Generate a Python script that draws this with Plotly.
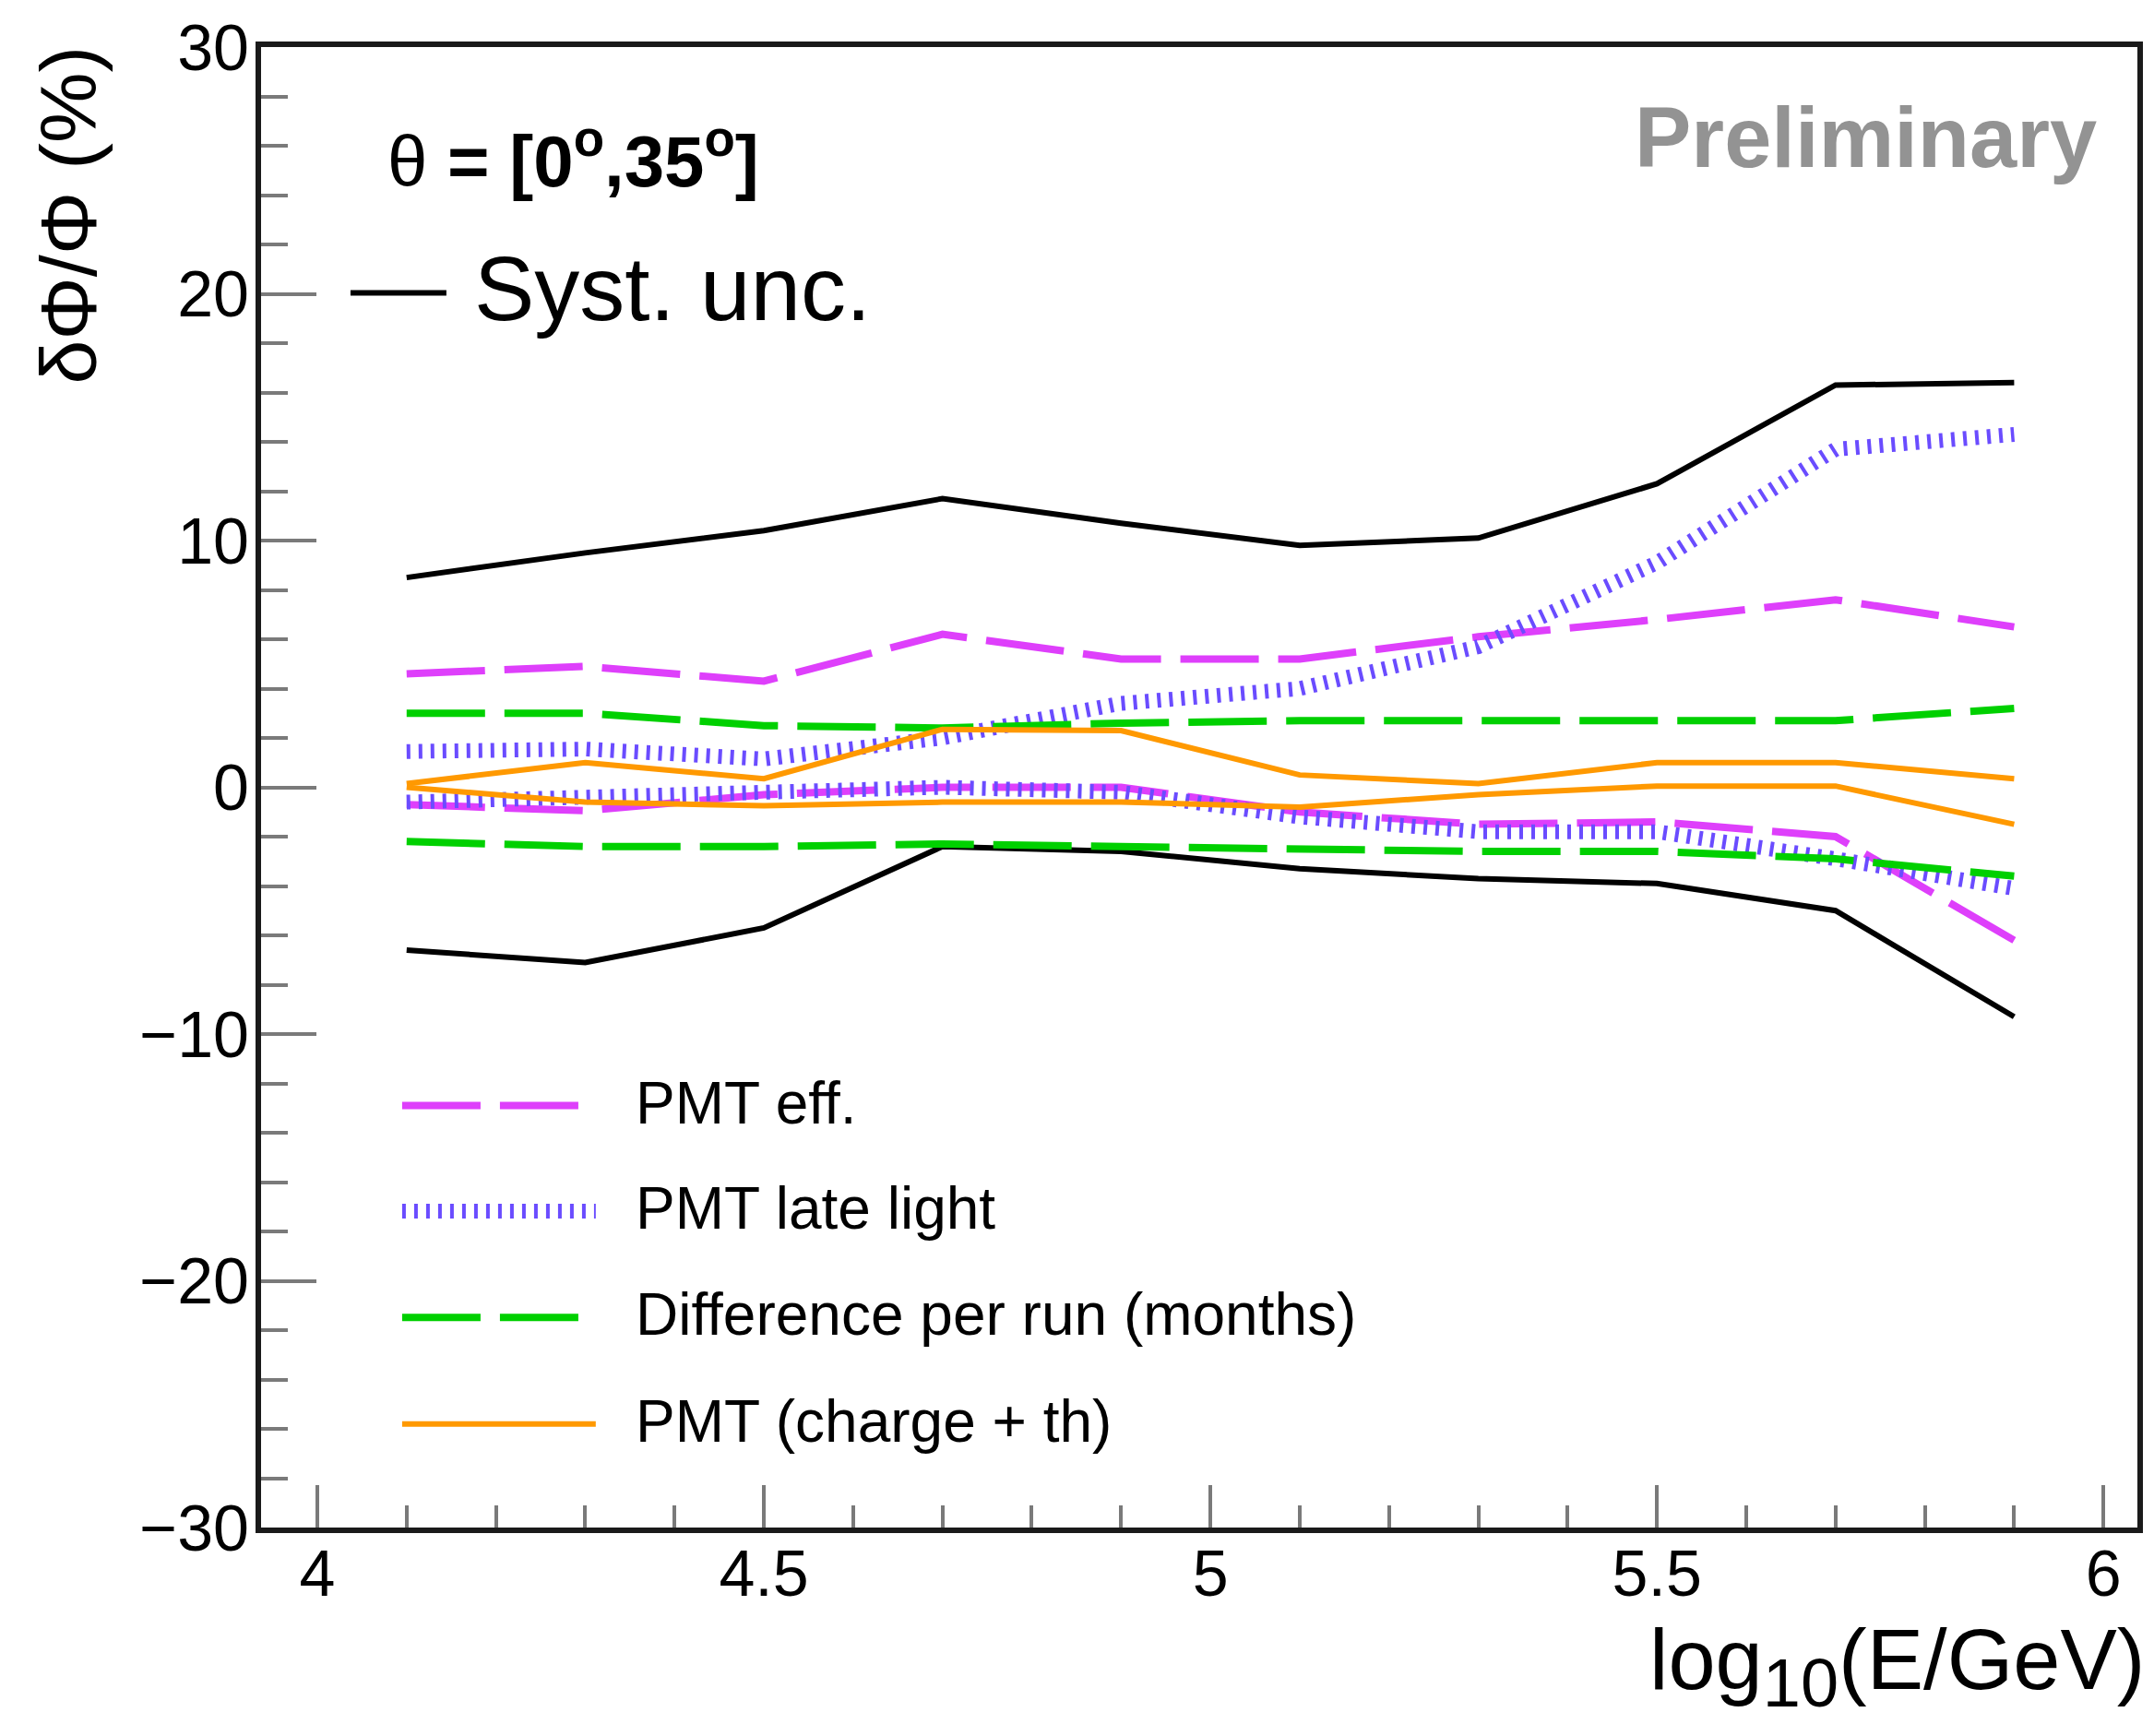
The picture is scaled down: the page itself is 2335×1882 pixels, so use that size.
import plotly.graph_objects as go

# ---------------- data ----------------
energy = [4.1, 4.3, 4.5, 4.7, 4.9, 5.1, 5.3, 5.5, 5.7, 5.9]

syst_up = [8.5, 9.5, 10.4, 11.7, 10.7, 9.8, 10.1, 12.3, 16.3, 16.4]
syst_dn = [-6.6, -7.1, -5.7, -2.4, -2.6, -3.3, -3.7, -3.9, -5.0, -9.3]

pmt_eff_up = [4.6, 4.9, 4.3, 6.2, 5.2, 5.2, 6.1, 6.8, 7.6, 6.5]
pmt_eff_dn = [-0.7, -0.95, -0.3, 0.0, 0.0, -1.0, -1.5, -1.4, -2.0, -6.2]

late_up = [1.45, 1.55, 1.15, 2.0, 3.4, 4.0, 5.7, 9.1, 13.7, 14.3]
late_dn = [-0.6, -0.4, -0.1, 0.0, -0.2, -1.2, -1.8, -1.8, -2.9, -4.1]

run_up = [3.0, 3.0, 2.5, 2.4, 2.6, 2.7, 2.7, 2.7, 2.7, 3.2]
run_dn = [-2.2, -2.4, -2.4, -2.3, -2.4, -2.5, -2.6, -2.6, -2.9, -3.6]

charge_up = [0.15, 1.0, 0.35, 2.35, 2.3, 0.5, 0.15, 1.0, 1.0, 0.35]
charge_dn = [0.0, -0.6, -0.75, -0.6, -0.6, -0.8, -0.3, 0.05, 0.05, -1.5]

legend_labels = ["PMT eff.", "PMT late light", "Difference per run (months)", "PMT (charge + th)"]
syst_label = "Syst. unc."
theta_label = "θ <b>= [0<sup>o</sup>,35<sup>o</sup>]</b>"
prelim_label = "<b>Preliminary</b>"
x_title = "log<sub><span style=\"font-size:74px\">10</span></sub>(E/GeV)"
y_title = "δΦ/Φ (%)"

# ---------------- styles ----------------
FONT = "Liberation Sans, Arial, Helvetica, sans-serif"
BLACK = "#000000"
MAGENTA = "#de3ffb"
VIOLET = "#6a4cff"
GREEN = "#00d000"
ORANGE = "#ff9900"

styles = [
    dict(color=MAGENTA, width=8, dash="85px,21px"),
    dict(color=VIOLET, width=16, dash="4px,9px"),
    dict(color=GREEN, width=8, dash="85px,21px"),
    dict(color=ORANGE, width=6, dash="solid"),
]

fig = go.Figure()

# Syst. unc. envelope
for ys in (syst_up, syst_dn):
    fig.add_trace(go.Scatter(x=energy, y=ys, mode="lines", name=syst_label,
                             line=dict(color=BLACK, width=6), showlegend=False))

series = [(pmt_eff_up, pmt_eff_dn), (late_up, late_dn), (run_up, run_dn), (charge_up, charge_dn)]
for (up, dn), st, lab in zip(series, styles, legend_labels):
    for ys in (up, dn):
        fig.add_trace(go.Scatter(x=energy, y=ys, mode="lines", name=lab,
                                 line=st, showlegend=False))

# ---------------- layout ----------------
# the page body margin is removed (post_script below) -> figure sits at (0, 0)
W, H = 2335, 1882
PL, PR, PT, PB = 283, 2318, 42, 1656          # plot area in page pixels
ML, MT = PL, PT
MR = W - PR
MB = H - PB
PW, PH = PR - PL, PB - PT

def px(xp):
    return (xp - PL) / PW

def py(yp):
    return (PB - yp) / PH

shapes = []
annotations = []

# Upper legend: Syst. unc.
shapes.append(dict(type="line", xref="paper", yref="paper",
                   x0=px(380), x1=px(484), y0=py(310), y1=py(310),
                   line=dict(color=BLACK, width=6)))
annotations.append(dict(text=syst_label, xref="paper", yref="paper",
                        x=px(512), y=py(305), xanchor="left", yanchor="middle",
                        showarrow=False, font=dict(family=FONT, size=98, color="black")))

# Lower legend
leg_y = [1196, 1311, 1427, 1543]
for yy, st, lab in zip(leg_y, styles, legend_labels):
    shapes.append(dict(type="line", xref="paper", yref="paper",
                       x0=px(436), x1=px(646), y0=py(yy), y1=py(yy),
                       line=st))
    annotations.append(dict(text=lab, xref="paper", yref="paper",
                            x=px(687), y=py(yy - 3), xanchor="left", yanchor="middle",
                            showarrow=False, font=dict(family=FONT, size=64, color="black")))

# theta label
annotations.append(dict(text=theta_label, xref="paper", yref="paper",
                        x=px(418), y=py(161), xanchor="left", yanchor="middle",
                        showarrow=False, font=dict(family=FONT, size=78, color="black")))
# Preliminary
annotations.append(dict(text=prelim_label, xref="paper", yref="paper",
                        x=px(2276), y=py(141), xanchor="right", yanchor="middle",
                        showarrow=False, font=dict(family=FONT, size=92, color="#939393")))
# axis titles
annotations.append(dict(text=x_title, xref="paper", yref="paper",
                        x=px(2328), y=py(1808), xanchor="right", yanchor="middle",
                        showarrow=False, font=dict(family=FONT, size=92, color="black")))
annotations.append(dict(text=y_title, xref="paper", yref="paper", textangle=-90,
                        x=px(73), y=py(39), xanchor="center", yanchor="top",
                        showarrow=False, font=dict(family=FONT, size=86, color="black")))

fig.update_layout(
    width=W, height=H, autosize=False,
    margin=dict(l=ML, r=MR, t=MT, b=MB, pad=0),
    paper_bgcolor="white", plot_bgcolor="white",
    showlegend=False,
    shapes=shapes, annotations=annotations,
    font=dict(family=FONT, color="black"),
)

fig.update_xaxes(
    range=[3.937, 6.038], tick0=4, dtick=0.5,
    ticks="inside", ticklen=46, tickwidth=4, tickcolor="#7a7a7a",
    minor=dict(tick0=4, dtick=0.1, ticks="inside", ticklen=24, tickwidth=4, tickcolor="#7a7a7a"),
    showline=True, linewidth=6, linecolor="#1a1a1a", mirror=True,
    showgrid=False, zeroline=False,
    tickfont=dict(family=FONT, size=70, color="black"),
    ticklabelstandoff=-16, ticklabeloverflow="allow",
)
fig.update_yaxes(
    range=[-30, 30], tick0=-30, dtick=10,
    ticks="inside", ticklen=60, tickwidth=4, tickcolor="#7a7a7a",
    minor=dict(tick0=-30, dtick=2, ticks="inside", ticklen=29, tickwidth=4, tickcolor="#7a7a7a"),
    showline=True, linewidth=6, linecolor="#1a1a1a", mirror=True,
    showgrid=False, zeroline=False,
    tickfont=dict(family=FONT, size=70, color="black"),
    ticklabelstandoff=-7, ticklabeloverflow="allow",
)

fig.write_html(
    "out.html",
    config=dict(displayModeBar=False),
    post_script="document.body.style.margin='0';document.body.style.overflow='hidden';",
)
